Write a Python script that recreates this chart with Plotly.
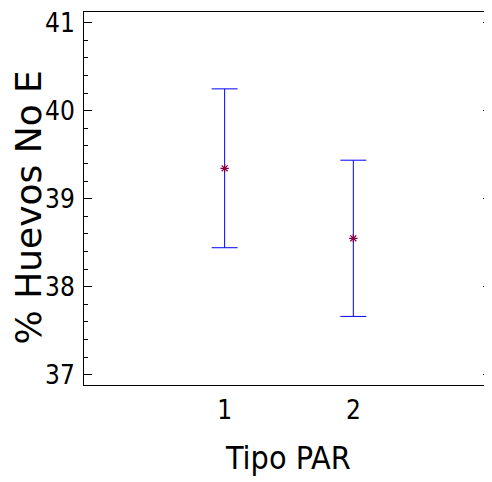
import plotly.graph_objects as go

categories = [1, 2]
means = [39.345, 38.55]
half_widths = [0.902, 0.887]
y_ticks = [37, 38, 39, 40, 41]
x_tick_labels = ["1", "2"]
y_title = "% Huevos No E"
x_title = "Tipo PAR"

fig = go.Figure()
fig.add_trace(go.Scatter(
    x=categories, y=means, mode="markers",
    marker=dict(symbol="asterisk-open", size=7, color="#8B0045",
                line=dict(color="#8B0045", width=1.2)),
    error_y=dict(type="data", array=half_widths, visible=True,
                 color="#0000FF", thickness=1, width=13),
    showlegend=False,
))

narrow = "DejaVu Sans Condensed, Liberation Sans Narrow, Arial Narrow, Liberation Sans, sans-serif"

fig.update_layout(
    width=484, height=474,
    margin=dict(l=76, r=0, t=1, b=97),
    paper_bgcolor="white", plot_bgcolor="white",
    xaxis=dict(
        range=[-0.093, 3.07], tickvals=categories, ticktext=x_tick_labels,
        showgrid=False, zeroline=False, showline=True, linecolor="black",
        linewidth=1, mirror=True, ticks="", ticklabelstandoff=2,
        tickfont=dict(family=narrow, size=26, color="black"),
    ),
    yaxis=dict(
        range=[36.884, 41.12], tickvals=y_ticks,
        showgrid=False, zeroline=False, showline=True, linecolor="black",
        linewidth=1, mirror="allticks", ticks="inside", ticklen=8,
        tickcolor="black", ticklabelstandoff=3, ticklabeloverflow="allow",
        minor=dict(dtick=0.2, ticks="inside", ticklen=4, tickcolor="black"),
        tickfont=dict(family=narrow, size=26, color="black"),
    ),
    annotations=[
        dict(text=y_title, xref="paper", yref="paper", x=0, y=0.5,
             xanchor="center", yanchor="middle", textangle=-90,
             xshift=-56, yshift=-9, showarrow=False, borderpad=0,
             font=dict(family="DejaVu Sans, Liberation Sans, sans-serif", size=36, color="black")),
        dict(text=x_title, xref="paper", yref="paper", x=0.5, y=0,
             xanchor="center", yanchor="middle", yshift=-73, showarrow=False,
             font=dict(family=narrow, size=32, color="black")),
    ],
)

fig.write_html("out.html")
